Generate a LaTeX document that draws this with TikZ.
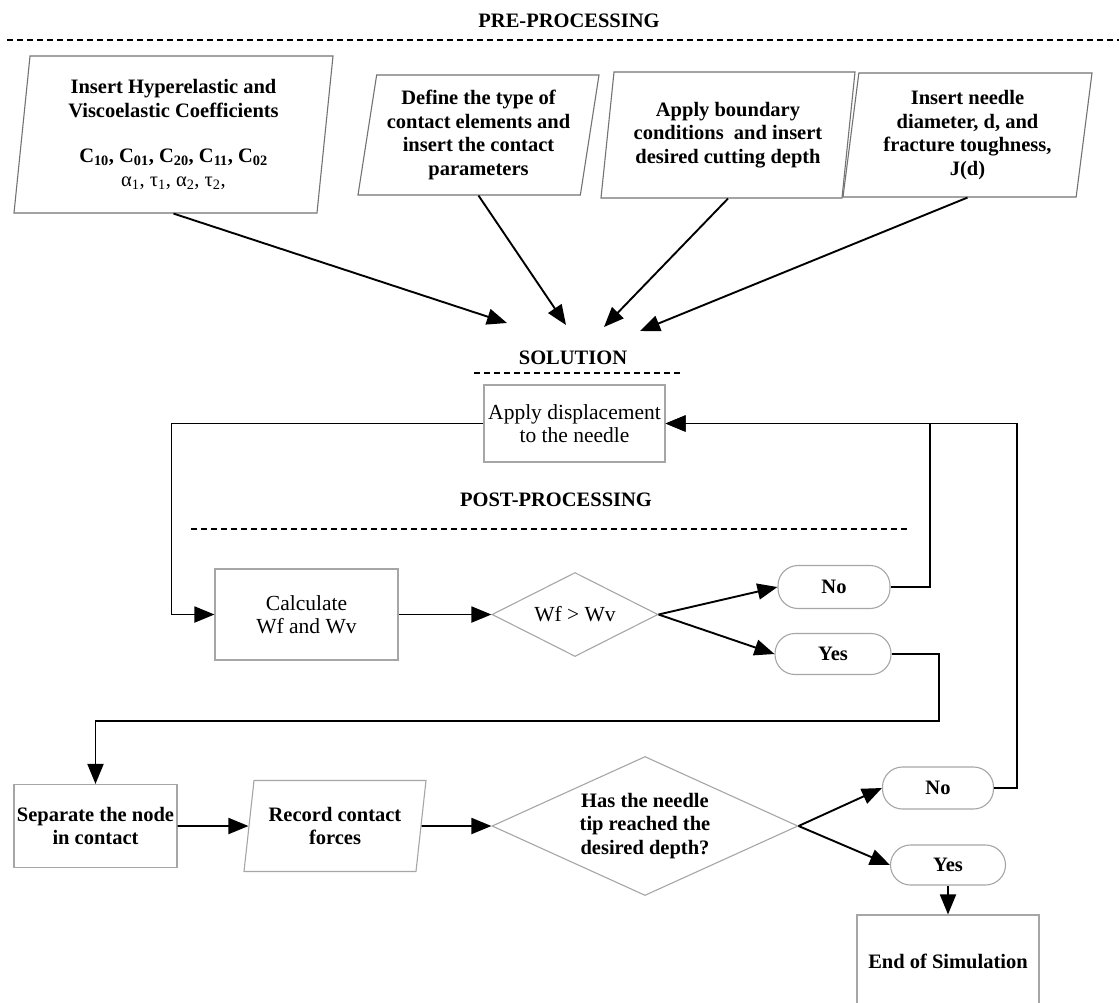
\documentclass[tikz,border=0pt]{standalone}
\usepackage{fontspec}
\setmainfont{Liberation Serif}
\usetikzlibrary{shapes.geometric,arrows.meta}
\begin{document}
\begin{tikzpicture}[x=1pt,y=-1pt,
  txt/.style={font=\fontsize{20.5}{23.5}\selectfont\bfseries, align=center, inner sep=0pt},
  regtxt/.style={font=\fontsize{21.5}{23.5}\selectfont, align=center, inner sep=0pt},
  topbox/.style={trapezium, trapezium stretches body, draw=black!55, line width=1.1pt, txt},
  rbox/.style={rectangle, draw=black!35, line width=1.1pt},
  dbox/.style={diamond, aspect=2.2, draw=black!35, line width=1.1pt},
  obox/.style={rectangle, rounded corners=20pt, draw=black!35, line width=1.1pt, txt},
  conn/.style={line width=1.9pt, -{Triangle[length=20pt,width=16pt]}},
  sepline/.style={line width=1.9pt, dash pattern=on 6pt off 4pt}
]
\useasboundingbox (0,0) rectangle (1119,1002);
\fill[white] (0,0) rectangle (1119,1002);

% titles and separators
\node[txt] (pre) at (569,21) {PRE-PROCESSING};
\draw[sepline] (7,40) -- (1119,40);
\node[txt] (sol) at (573,358) {SOLUTION};
\draw[sepline] (474,373) -- (681,373);
\node[txt] (post) at (556,500) {POST-PROCESSING};
\draw[sepline] (191,529) -- (908,529);

% pre-processing inputs
\node[topbox, trapezium left angle=81.7, trapezium right angle=98.3,
      minimum width=319pt, minimum height=157pt] (b1) at (173.5,134.5)
  {Insert Hyperelastic and\\Viscoelastic Coefficients\\[22pt]
   C\textsubscript{10}, C\textsubscript{01}, C\textsubscript{20}, C\textsubscript{11}, C\textsubscript{02}\\
   {\mdseries α\textsubscript{1}, τ\textsubscript{1}, α\textsubscript{2}, τ\textsubscript{2},}};
\node[topbox, trapezium left angle=78.2, trapezium right angle=101.8,
      minimum width=241pt, minimum height=120pt] (b2) at (478.5,135)
  {Define the type of\\contact elements and\\insert the contact\\parameters};
\node[topbox, trapezium left angle=78.8, trapezium right angle=101.2,
      minimum width=254pt, minimum height=126pt] (b3) at (728,135)
  {Apply boundary\\conditions~ and insert\\desired cutting depth};
\node[topbox, trapezium left angle=79.9, trapezium right angle=100.1,
      minimum width=249pt, minimum height=124pt] (b4) at (967.5,135)
  {Insert needle\\diameter, d, and\\fracture toughness,\\J(d)};

\coordinate (t1) at (507,323);
\coordinate (t2) at (566,325);
\coordinate (t3) at (604,327);
\coordinate (t4) at (640,331);
\draw[conn] (b1.center |- b1.south) -- (t1);
\draw[conn] (b2.center |- b2.south) -- (t2);
\draw[conn] (b3.center |- b3.south) -- (t3);
\draw[conn] (b4.center |- b4.south) -- (t4);

% solution / post-processing
\node[rbox, regtxt, minimum width=181pt, minimum height=77pt] (apply) at (574.5,423.5)
  {Apply displacement\\to the needle};
\node[rbox, regtxt, minimum width=183pt, minimum height=91pt] (calc) at (306.5,614.5)
  {Calculate\\Wf and Wv};
\node[dbox, regtxt, minimum width=166pt, minimum height=84pt] (d1) at (575,614.5)
  {Wf > Wv};
\node[obox, minimum width=112pt, minimum height=43pt] (no1) at (834,587) {No};
\node[obox, minimum width=116pt, minimum height=41pt] (yes1) at (833,654) {Yes};

\node[rbox, txt, minimum width=163pt, minimum height=83pt] (sep) at (95.5,826)
  {Separate the node\\in contact};
\node[trapezium, trapezium stretches body, draw=black!35, line width=1.1pt, txt,
      trapezium left angle=75.2, trapezium right angle=104.8,
      minimum width=182pt, minimum height=91pt] (rec) at (335,826)
  {Record contact\\forces};
\node[dbox, txt, minimum width=306pt, minimum height=139pt] (d2) at (645,826)
  {Has the needle\\tip reached the\\desired depth?};
\node[obox, minimum width=111pt, minimum height=42pt] (no2) at (938,788) {No};
\node[obox, minimum width=115pt, minimum height=40pt] (yes2) at (948,865) {Yes};
\node[rbox, txt, minimum width=182pt, minimum height=92pt] (endbox) at (948,961)
  {End of Simulation};

% connectors
\draw[conn] (apply.west) -| ([xshift=-43pt]calc.west) -- (calc.west);
\draw[conn] (calc.east) -- (d1.west);
\draw[conn] (d1.east) -- (no1.west);
\draw[conn] (d1.east) -- (yes1.west);
\draw[conn] (no1.east) -- ++(39,0) |- (apply.east);
\draw[conn] (no2.east) -- ++(23,0) |- (apply.east);
\draw[conn] (yes1.east) -- ++(47,0) |- ([yshift=63pt]sep.north) -- (sep.north);
\draw[conn] (sep.east) -- (rec.west);
\draw[conn] (rec.east) -- (d2.west);
\draw[conn] (d2.east) -- (no2.west);
\draw[conn] (d2.east) -- (yes2.west);
\draw[conn] (yes2.south) -- (endbox.north);
\end{tikzpicture}
\end{document}
